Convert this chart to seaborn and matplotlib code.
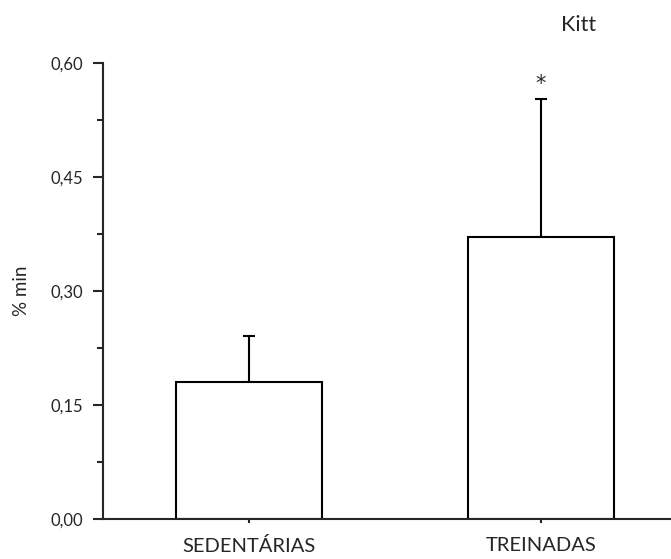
import matplotlib.pyplot as plt
import seaborn as sns
import numpy as np
import pandas as pd
from matplotlib.ticker import FuncFormatter, MultipleLocator

grupos = ['SEDENTÁRIAS', 'TREINADAS']
medias = [0.180, 0.371]
erros = [0.061, 0.182]
marcas = ['', '*']

sns.set_style('ticks')
plt.rcParams['font.family'] = ['Lato', 'DejaVu Sans']

datos = pd.DataFrame({'grupo': grupos, 'valor': medias})

fig = plt.figure(figsize=(6.71, 5.59), dpi=100)
ax = fig.add_axes([0.1535, 0.0716, 0.870, 0.8155])

sns.barplot(x='grupo', y='valor', data=datos, color='white', edgecolor='black',
            linewidth=1.5, width=0.5, errorbar=None, ax=ax)
for p in ax.patches:
    p.set_facecolor('white')

x = np.arange(len(grupos))
ax.errorbar(x, medias, yerr=[np.zeros(len(erros)), erros], fmt='none',
            ecolor='black', elinewidth=1.5, capsize=4, capthick=1.5, zorder=0)

# asterisco de significancia
for xi, m, e, s in zip(x, medias, erros, marcas):
    if s:
        ax.text(xi, m + e + 0.006, s, ha='center', va='bottom', fontsize=15,
                family='DejaVu Sans')

ax.set_xlim(-0.5, 1.5)
ax.set_ylim(0, 0.60)
ax.yaxis.set_major_locator(MultipleLocator(0.15))
ax.yaxis.set_minor_locator(MultipleLocator(0.075))
ax.yaxis.set_major_formatter(FuncFormatter(lambda v, pos: f'{v:.2f}'.replace('.', ',')))
ax.tick_params(axis='y', which='major', length=7, width=1.5, labelsize=12, pad=7)
ax.tick_params(axis='y', which='minor', length=4, width=1.5)
ax.tick_params(axis='x', length=3, width=1.5, labelsize=14.5, pad=10)
for lado in ['left', 'bottom']:
    ax.spines[lado].set_linewidth(1.5)
sns.despine(ax=ax)
ax.spines['bottom'].set_clip_on(False)

ax.set_xlabel('')
ax.set_ylabel('% min', fontsize=13.5, labelpad=15)
fig.text(0.862, 0.955, 'Kitt', ha='center', va='center', fontsize=15.5)

fig.savefig('out.png', dpi=100)
